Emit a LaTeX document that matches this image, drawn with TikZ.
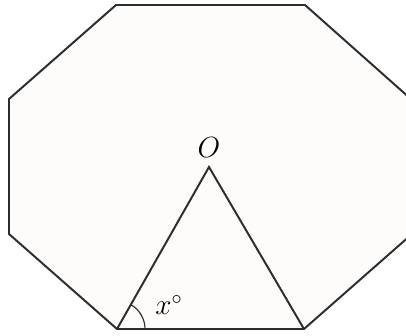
\documentclass[tikz,border=0pt]{standalone}
\usepackage{amsmath,amssymb}
\usetikzlibrary{angles}
\definecolor{octfill}{RGB}{253,252,250}
\definecolor{edge}{RGB}{45,45,45}
\begin{document}
\begin{tikzpicture}[x=0.025cm,y=-0.025cm,line width=1.4pt,draw=edge]
\useasboundingbox (0,0) rectangle (406,335);
{
% octagon corners
\coordinate (A) at (116,5);
\coordinate (B) at (305,5);
\coordinate (C) at (412,100);
\coordinate (D) at (412,234);
\coordinate (E) at (304,329);
\coordinate (F) at (117,329);
\coordinate (G) at (9,234);
\coordinate (H) at (9,99);
\coordinate (O) at (209,167);
\filldraw[fill=octfill] (A) -- (B) -- (C) -- (D) -- (E) -- (F) -- (G) -- (H) -- cycle;
\draw (F) -- (O) -- (E);
\draw[line width=0.8pt] pic[draw=edge,angle radius=0.7cm] {angle=E--F--O};
\node[font=\fontsize{21}{24}\selectfont] (lO) at (209,148) {$O$};
\node[font=\fontsize{20}{24}\selectfont] (lx) at (169,305) {$x^\circ$};
}
\end{tikzpicture}
\end{document}
